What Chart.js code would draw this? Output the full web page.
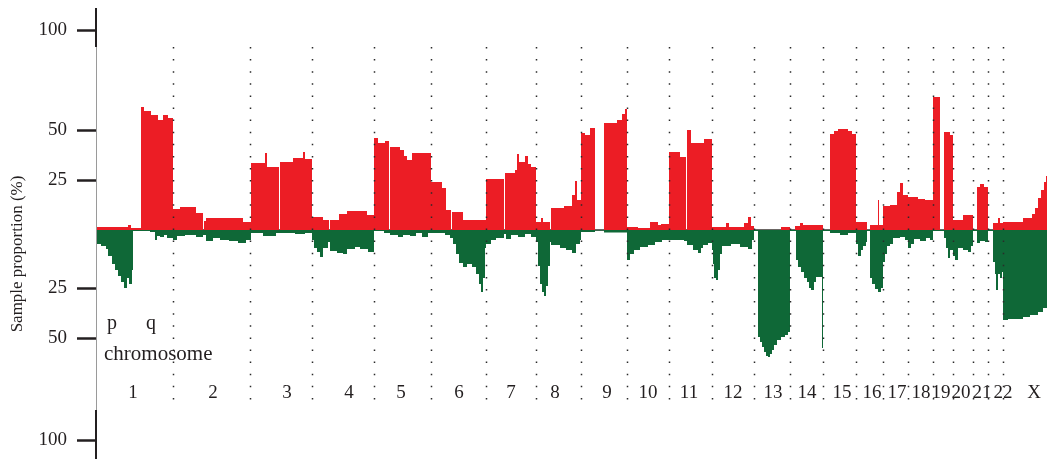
<!DOCTYPE html>
<html>
<head>
<meta charset="utf-8">
<script src="https://cdn.jsdelivr.net/npm/chart.js@4/dist/chart.umd.min.js"></script>
<style>
  html, body { margin: 0; padding: 0; background: #fff; }
  #wrap { width: 1047px; height: 459px; position: relative; }
</style>
</head>
<body>
<div id="wrap"><canvas id="cnv"></canvas></div>
<script>
// genome position (arbitrary units along the plot) where each chromosome ends
const chrNames = ["1","2","3","4","5","6","7","8","9","10","11","12","13","14","15","16","17","18","19","20","21","22","X"];
const chrEnds = [77,154,216,278,335,390,440,485,531,573,616,658,694,727,760,787,812,837,857,877,892,907,951];
const chrLabelPos = [37,117,191,253,305,363,415,459,511,552,593,637,677,711,746,776,801,825,845,865,886,907,938];

// gains (%): each value holds from its position to the next one
const gainPos = [
  0,32,35,45,48,55,62,67,72,
  77,84,100,107,108,110,147,
  155,169,171,183,184,197,207,209,
  216,227,233,234,243,251,271,
  278,282,289,293,294,304,308,311,316,
  335,346,350,355,356,367,
  390,408,409,419,421,423,429,432,435,
  440,445,447,454,455,468,476,479,481,
  485,489,494,499,508,521,526,529,
  531,542,554,562,565,
  573,584,590,591,595,608,
  616,630,633,648,652,655,
  658,685,
  694,699,704,707,
  727,734,738,742,752,756,
  760,771,774,782,783,
  787,794,801,804,807,
  812,822,829,
  837,844,848,854,
  857,867,
  877,881,884,888,
  892,897,902,904,
  907,927,936,939,942,945,948,950,951
];
const gainVal = [
  1.5,2.5,1,61.5,59.5,57.5,55,57.5,56,
  10.5,11.5,8.5,0,4.5,6,4,
  33.5,38.5,31.5,0,34,36,39,35.5,
  6.5,5,0,5,8,9.5,7.5,
  46,43.5,44.5,0,41.5,40,37,35,38.5,
  24,21,10,0,9,5,
  25.5,0,28.5,30,38,34,37,33,31.5,
  4,6,4,0,11,12,17.5,24.5,15,
  48.5,47.5,51,0,53.5,55,58,60.5,
  1.5,1,4,2.5,3,
  39,36.5,0,50,43.5,45.5,
  1.5,3.5,1.5,3.5,6.5,2,
  0,1.5,
  0,2,3.5,2.5,
  0,48,49.5,50.5,49.5,48,
  4,0,2.5,15,2.5,
  12,12.5,19,23.5,17.5,
  16.5,15.5,15,
  66.5,0,49,47.5,
  5,7.5,
  0,21.5,23,21.5,
  0,3.5,6,3.5,
  4,6,8,11,16,20,24,27,27
];

// losses (%), drawn below zero
const lossPos = [
  0,5,10,12,16,19,22,25,28,31,33,36,37,54,59,61,64,68,71,
  77,81,89,100,107,110,117,124,133,142,150,
  155,167,180,199,209,
  216,218,221,224,227,232,234,241,247,251,259,264,272,
  278,288,294,302,307,314,320,326,332,
  335,349,354,357,360,363,367,371,376,380,383,385,387,389,
  390,395,400,408,410,415,422,429,435,
  440,442,444,446,448,450,452,454,455,464,470,476,480,484,
  485,499,508,
  531,534,538,544,552,559,566,
  573,588,591,597,602,605,607,612,
  616,617,618,620,622,624,626,635,644,652,656,
  658,662,664,666,668,670,672,674,676,678,681,685,689,692,
  694,700,702,705,708,711,713,715,718,720,726,
  727,734,744,752,
  760,762,765,767,770,771,774,776,779,782,785,
  787,789,791,794,797,804,809,
  812,815,818,824,830,834,
  837,848,850,852,854,
  857,859,862,867,872,875,
  877,881,884,889,
  892,897,899,900,902,904,906,
  907,912,927,934,942,947,951
];
const lossVal = [
  -7,-8,-9.5,-13,-17,-20,-23,-26,-29,-24,-27,-20,-0.5,-1,-5,-3,-3.5,-2.5,-4,
  -5,-3,-2.5,-3.5,-2.5,-5.5,-4,-5,-5.5,-6.5,-5,
  -1.5,-3,-1.5,-2,-1.5,
  -5,-9,-11,-13.5,-9,-6,-10.5,-11.5,-12,-9.5,-8.5,-9.5,-11,
  -0.5,-1.5,-2.5,-3.5,-2.5,-3,-1.5,-3.5,-1.5,
  -1.5,-2.5,-4,-7,-12,-16.5,-18.5,-17,-18.5,-22,-27,-31,-24,-9,
  -7,-5,-4,-2,-4.5,-2.5,-3.5,-2,-3.5,
  -6,-18,-27,-31,-33,-28,-18,-6,-7.5,-9,-10,-11.5,-7,-5,
  -1,-0.3,-1.2,
  -15,-12,-10,-8.5,-7.5,-6,-5,
  -5,-5.5,-7.5,-10,-11.5,-9,-7.5,-6.5,
  -10,-17,-24,-25,-20,-12,-8,-7,-8.5,-9.5,-5,
  -0.5,-53.5,-56,-58.5,-61,-63,-63.5,-62,-60,-57.5,-55,-53.5,-52.5,-51,
  -0.5,-15,-18.5,-21,-24,-26,-29,-30,-26,-23.5,-59,
  -0.5,-1.5,-2.5,-1.5,
  -7,-13,-10,-8,-6,-0.5,-24,-27,-29.5,-31,-29,
  -16,-12,-8,-7,-4,-3.5,-5,
  -9,-7,-4.5,-5.5,-4,-5,
  -0.5,-4,-9,-14,-10,
  -13,-15,-9,-10,-11,-8,
  -0.5,-6.5,-5.5,-6,
  -0.5,-16,-22,-30,-22,-24,-21,
  -45,-44.5,-43.5,-42.5,-41,-39,-39
];

// y-axis tick positions and their printed labels
const yTickPos = [100, 50, 25, -29, -54, -105];
const yTickText = ["100", "50", "25", "25", "50", "100"];

const serif = "'Liberation Serif', 'DejaVu Serif', serif";
const ink = "#231f20";

const toPoints = (xs, ys) => xs.map((x, i) => ({ x: x, y: ys[i] }));

const decorations = {
  id: "decorations",
  beforeDatasetsDraw(chart) {
    const { ctx, chartArea } = chart;
    const y = chart.scales.y;
    ctx.save();
    ctx.strokeStyle = "#3a3330";
    ctx.lineWidth = 1.5;
    ctx.beginPath();
    ctx.moveTo(chartArea.left, y.getPixelForValue(0));
    ctx.lineTo(chartArea.right, y.getPixelForValue(0));
    ctx.stroke();
    ctx.restore();
  },
  afterDatasetsDraw(chart) {
    const { ctx, chartArea } = chart;
    const x = chart.scales.x, y = chart.scales.y;
    ctx.save();
    // dotted chromosome separators
    ctx.strokeStyle = "#2a2a2a";
    ctx.lineWidth = 1.5;
    ctx.setLineDash([1.5, 10.6]);
    const top = y.getPixelForValue(91.5), bot = y.getPixelForValue(-90);
    chrEnds.slice(0, -1).forEach(v => {
      const px = Math.round(x.getPixelForValue(v)) + 0.5;
      ctx.beginPath();
      ctx.moveTo(px, top);
      ctx.lineTo(px, bot);
      ctx.stroke();
    });
    ctx.setLineDash([]);
    // y spine: black ends, grey frame in the middle
    const lx = chartArea.left;
    ctx.strokeStyle = ink;
    ctx.lineWidth = 2;
    ctx.beginPath();
    ctx.moveTo(lx, chartArea.top); ctx.lineTo(lx, top);
    ctx.moveTo(lx, bot); ctx.lineTo(lx, chartArea.bottom);
    ctx.stroke();
    ctx.strokeStyle = "#9a9a9a";
    ctx.lineWidth = 1;
    ctx.beginPath();
    ctx.moveTo(lx + 0.5, top); ctx.lineTo(lx + 0.5, bot);
    ctx.stroke();
    // text inside the plot
    ctx.fillStyle = ink;
    ctx.textAlign = "center";
    ctx.textBaseline = "middle";
    ctx.font = "20px " + serif;
    ctx.fillText("p", x.getPixelForValue(16), y.getPixelForValue(-47));
    ctx.fillText("q", x.getPixelForValue(55), y.getPixelForValue(-47));
    ctx.font = "21px " + serif;
    ctx.textAlign = "left";
    ctx.fillText("chromosome", x.getPixelForValue(8), y.getPixelForValue(-62));
    ctx.textAlign = "center";
    ctx.font = "19px " + serif;
    chrNames.forEach((n, i) => {
      ctx.fillText(n, x.getPixelForValue(chrLabelPos[i]), y.getPixelForValue(-81.5));
    });
    // axis title
    ctx.save();
    ctx.translate(18, y.getPixelForValue(-12));
    ctx.rotate(-Math.PI / 2);
    ctx.font = "17px " + serif;
    ctx.fillText("Sample proportion (%)", 0, 0);
    ctx.restore();
    ctx.restore();
  }
};

new Chart(document.getElementById("cnv"), {
  type: "line",
  data: {
    datasets: [
      {
        label: "gain",
        data: toPoints(gainPos, gainVal),
        stepped: "before",
        fill: "origin",
        backgroundColor: "#ec1d25",
        borderColor: "transparent",
        borderWidth: 0,
        pointRadius: 0
      },
      {
        label: "loss",
        data: toPoints(lossPos, lossVal),
        stepped: "before",
        fill: "origin",
        backgroundColor: "#0f6837",
        borderColor: "transparent",
        borderWidth: 0,
        pointRadius: 0
      }
    ]
  },
  options: {
    responsive: true,
    maintainAspectRatio: false,
    animation: false,
    layout: { padding: { top: 8, right: 0, bottom: 0, left: 0 } },
    plugins: { legend: { display: false }, tooltip: { enabled: false } },
    scales: {
      x: { type: "linear", min: 0, max: 951, display: false },
      y: {
        min: -114.5,
        max: 111,
        afterBuildTicks: (s) => { s.ticks = yTickPos.map(v => ({ value: v })); },
        afterFit: (s) => { s.width = 96; s.paddingTop = 0; s.paddingBottom = 0; },
        border: { display: false },
        grid: { drawOnChartArea: false, drawTicks: true, tickLength: 19, tickWidth: 2.5, tickColor: ink },
        ticks: {
          padding: 10,
          color: ink,
          font: { family: serif, size: 19 },
          callback: (v) => yTickText[yTickPos.indexOf(v)]
        }
      }
    }
  },
  plugins: [decorations]
});
</script>
</body>
</html>
